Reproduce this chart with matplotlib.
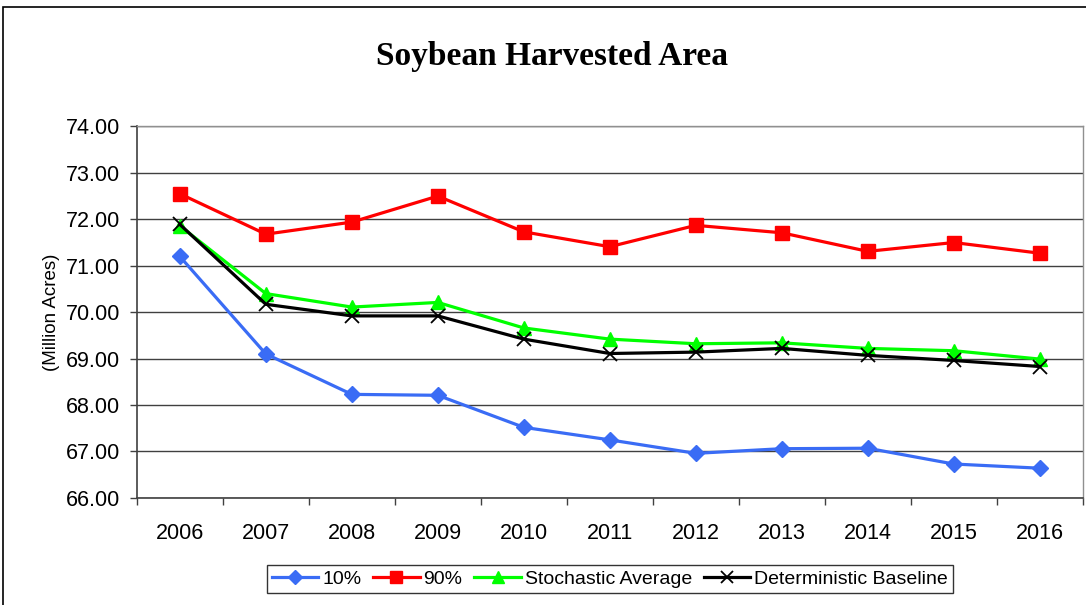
import numpy as np
import matplotlib
matplotlib.use("Agg")
from matplotlib import pyplot as plt
from matplotlib.patches import Rectangle

years = ["2006", "2007", "2008", "2009", "2010", "2011",
         "2012", "2013", "2014", "2015", "2016"]
p10 = [71.20, 69.10, 68.23, 68.21, 67.52, 67.25, 66.96, 67.06, 67.07, 66.73, 66.64]
p90 = [72.55, 71.68, 71.94, 72.50, 71.73, 71.41, 71.87, 71.71, 71.31, 71.50, 71.27]
stoch_avg = [71.86, 70.40, 70.11, 70.21, 69.66, 69.42, 69.32, 69.34, 69.22, 69.17, 68.99]
det_base = [71.89, 70.17, 69.92, 69.92, 69.42, 69.11, 69.14, 69.22, 69.07, 68.96, 68.83]
yticks = [66, 67, 68, 69, 70, 71, 72, 73, 74]

plt.rcParams['font.family'] = ['Liberation Sans', 'DejaVu Sans']

fig = plt.figure(figsize=(10.86, 6.05), dpi=100)
ax = fig.add_axes([0.126, 0.177, 0.871, 0.614])

x = np.arange(len(years))
ax.plot(x, p10, color='#3a6cf5', lw=2.3, marker='D', ms=8, label='10%')
ax.plot(x, p90, color='#ff0000', lw=2.3, marker='s', ms=10, label='90%')
ax.plot(x, stoch_avg, color='#00ff00', lw=2.3, marker='^', ms=10, label='Stochastic Average')
ax.plot(x, det_base, color='black', lw=2.3, marker='x', ms=10, mew=1.3,
        label='Deterministic Baseline')

ax.set_xlim(-0.5, len(years) - 0.5)
ax.set_ylim(66, 74)
ax.set_yticks(yticks)
ax.set_yticklabels(["%.2f" % v for v in yticks], fontsize=15.5)
ax.set_xticks(x)
ax.set_xticklabels(years, fontsize=15.5)
ax.tick_params(axis='x', which='major', length=0, pad=18)
ax.set_xticks(np.arange(-0.5, len(years)), minor=True)
ax.tick_params(axis='x', which='minor', length=5, width=1, color='#404040')
ax.tick_params(axis='y', length=5, width=1, color='#404040', pad=7)
ax.grid(axis='y', color='#404040', lw=1)
ax.set_axisbelow(True)

for side in ['left', 'bottom']:
    ax.spines[side].set_color('#404040')
    ax.spines[side].set_linewidth(1.2)
for side in ['top', 'right']:
    ax.spines[side].set_color('#909090')
    ax.spines[side].set_linewidth(1)

ax.set_ylabel('(Million Acres)', fontsize=13.5, labelpad=4)

fig.text(0.508, 0.906, 'Soybean Harvested Area', family='Liberation Serif',
         fontsize=24, fontweight='bold', ha='center', va='center')

leg = ax.legend(loc='center', bbox_to_anchor=(0.5, -0.218), ncol=4, fontsize=14,
                frameon=True, fancybox=False, edgecolor='black',
                handlelength=2.4, handletextpad=0.2, columnspacing=0.6,
                borderpad=0.25, borderaxespad=0, markerscale=0.9)
leg.get_frame().set_linewidth(1)

fig.patches.append(Rectangle((3 / 1086, -0.05), 1.2, 1 - 7 / 605 + 0.05,
                             transform=fig.transFigure, fill=False,
                             edgecolor='black', lw=1.2))

fig.savefig('out.png', dpi=100)
